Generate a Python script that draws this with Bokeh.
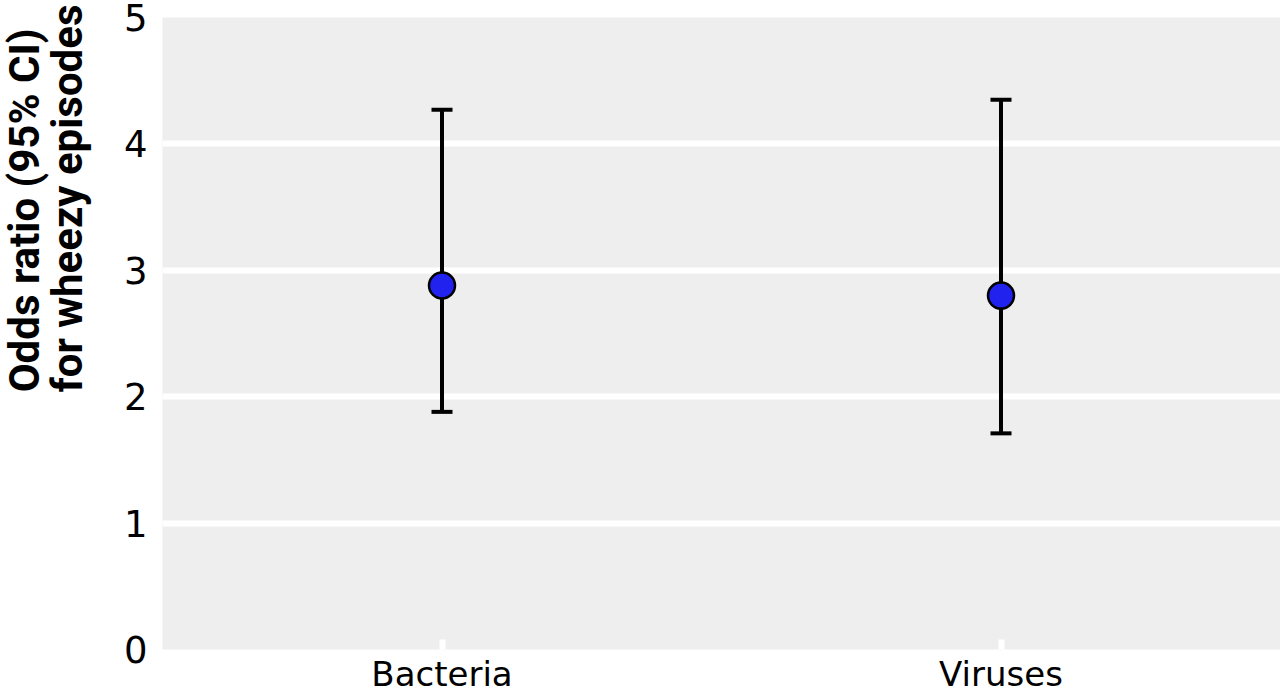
from bokeh.plotting import figure
from bokeh.models import ColumnDataSource, FactorRange, FixedTicker, Title
from bokeh.embed import file_html
from bokeh.resources import INLINE

categories = ["Bacteria", "Viruses"]
odds_ratio = [2.88, 2.80]
ci_low = [1.88, 1.71]
ci_high = [4.27, 4.35]
y_ticks = [0, 1, 2, 3, 4, 5]
y_title_lines = ["Odds ratio (95% CI)", "for wheezy episodes"]

src = ColumnDataSource(dict(cat=categories, orv=odds_ratio, low=ci_low, high=ci_high))

p = figure(width=1280, height=696, x_range=FactorRange(*categories, range_padding=0),
           y_range=(0, 5), output_backend="svg", toolbar_location=None,
           min_border_left=0, min_border_right=0, min_border_top=17, min_border_bottom=0)
p.x_range.range_padding = 0
p.background_fill_color = "#eeeeee"
p.border_fill_color = "white"
p.outline_line_color = None

p.xgrid.grid_line_color = None
p.ygrid.grid_line_color = "white"
p.ygrid.grid_line_width = 6
p.ygrid.ticker = FixedTicker(ticks=y_ticks)

p.yaxis.ticker = FixedTicker(ticks=y_ticks)
p.yaxis.axis_line_color = None
p.yaxis.major_tick_line_color = None
p.yaxis.minor_tick_line_color = None
p.yaxis.major_tick_out = 0
p.yaxis.major_tick_in = 0
p.yaxis.major_label_standoff = 15
p.yaxis.major_label_text_font = "DejaVu Sans"
p.yaxis.major_label_text_font_size = "37px"
p.yaxis.major_label_text_color = "black"
p.yaxis.axis_label = " "
p.yaxis.axis_label_text_font_size = "12px"
p.yaxis.axis_label_standoff = 11

p.xaxis.axis_line_color = None
p.xaxis.major_tick_out = 0
p.xaxis.major_tick_in = 10
p.xaxis.major_tick_line_color = "white"
p.xaxis.major_tick_line_width = 6
p.xaxis.major_label_standoff = 4
p.xaxis.major_label_text_font = "DejaVu Sans"
p.xaxis.major_label_text_font_size = "34px"
p.xaxis.major_label_text_color = "black"

p.segment(x0="cat", y0="low", x1="cat", y1="high", source=src, line_color="black", line_width=4)
p.scatter(x="cat", y="low", source=src, marker="dash", size=21, line_color="black", line_width=4)
p.scatter(x="cat", y="high", source=src, marker="dash", size=21, line_color="black", line_width=4)
p.scatter(x="cat", y="orv", source=src, marker="circle", size=26, fill_color="#2222ee",
          line_color="black", line_width=2.5)

p.add_layout(Title(text="\n".join(y_title_lines), align="right", vertical_align="top",
                   offset=-13, standoff=-2,
                   text_font="Roboto", text_font_style="bold", text_line_height=0.88,
                   text_font_size="42px", text_color="black"), "left")

open("out.html", "w").write(file_html(p, INLINE))
